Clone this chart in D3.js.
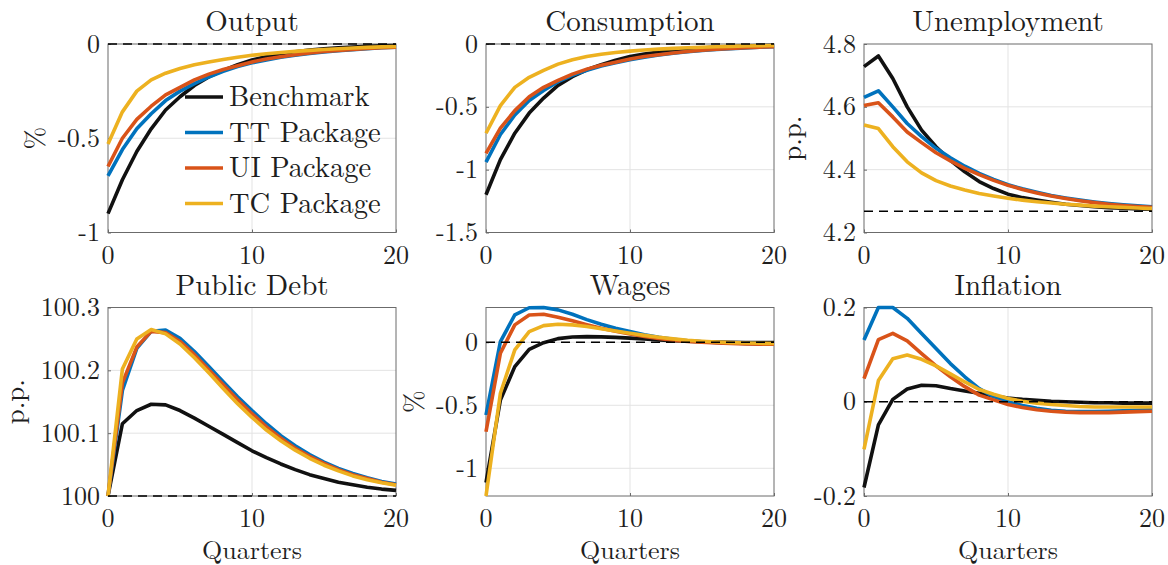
<!DOCTYPE html>
<html>
<head>
<meta charset="utf-8">
<script src="https://cdn.jsdelivr.net/npm/d3@7"></script>
<style>
  html, body { margin: 0; padding: 0; background: #fff; }
</style>
</head>
<body>
<svg id="chart" width="1168" height="565"></svg>
<script>
// Quarters after the shock
const quarters = [0,1,2,3,4,5,6,7,8,9,10,11,12,13,14,15,16,17,18,19,20];

const seriesNames = ["Benchmark", "TT Package", "UI Package", "TC Package"];
const seriesColors = ["#111111", "#0072BD", "#D95319", "#EDB120"];

// Output (%)
const outBench = [-0.90,-0.72,-0.57,-0.45,-0.35,-0.28,-0.22,-0.175,-0.14,-0.11,-0.085,-0.066,-0.052,-0.041,-0.032,-0.025,-0.02,-0.016,-0.012,-0.01,-0.008];
const outTT    = [-0.70,-0.56,-0.45,-0.37,-0.30,-0.25,-0.21,-0.175,-0.145,-0.12,-0.10,-0.085,-0.07,-0.06,-0.05,-0.042,-0.035,-0.03,-0.025,-0.02,-0.017];
const outUI    = [-0.65,-0.50,-0.40,-0.33,-0.27,-0.23,-0.19,-0.16,-0.135,-0.115,-0.095,-0.08,-0.068,-0.057,-0.048,-0.04,-0.034,-0.029,-0.024,-0.02,-0.017];
const outTC    = [-0.53,-0.36,-0.25,-0.19,-0.155,-0.13,-0.11,-0.095,-0.082,-0.07,-0.06,-0.052,-0.045,-0.039,-0.034,-0.029,-0.025,-0.021,-0.018,-0.015,-0.013];

// Consumption (%)
const conBench = [-1.20,-0.92,-0.71,-0.55,-0.43,-0.33,-0.26,-0.205,-0.165,-0.13,-0.10,-0.08,-0.064,-0.05,-0.04,-0.032,-0.025,-0.02,-0.016,-0.013,-0.01];
const conTT    = [-0.94,-0.72,-0.565,-0.45,-0.37,-0.30,-0.25,-0.21,-0.175,-0.15,-0.125,-0.105,-0.088,-0.074,-0.062,-0.052,-0.044,-0.037,-0.031,-0.026,-0.022];
const conUI    = [-0.87,-0.67,-0.53,-0.42,-0.345,-0.29,-0.24,-0.20,-0.17,-0.145,-0.12,-0.10,-0.085,-0.072,-0.06,-0.05,-0.042,-0.036,-0.03,-0.025,-0.021];
const conTC    = [-0.71,-0.49,-0.345,-0.265,-0.21,-0.16,-0.125,-0.10,-0.082,-0.068,-0.057,-0.048,-0.041,-0.035,-0.03,-0.026,-0.022,-0.019,-0.016,-0.014,-0.012];

// Unemployment (p.p.)
const unBench = [4.728,4.762,4.69,4.60,4.526,4.473,4.43,4.393,4.362,4.34,4.322,4.311,4.303,4.296,4.29,4.286,4.282,4.279,4.277,4.275,4.274];
const unTT    = [4.63,4.651,4.60,4.547,4.505,4.468,4.438,4.411,4.388,4.369,4.352,4.339,4.328,4.318,4.31,4.303,4.297,4.292,4.288,4.285,4.282];
const unUI    = [4.604,4.613,4.568,4.52,4.486,4.454,4.428,4.404,4.384,4.366,4.35,4.337,4.326,4.316,4.308,4.301,4.295,4.29,4.286,4.283,4.28];
const unTC    = [4.542,4.531,4.473,4.425,4.39,4.365,4.348,4.335,4.324,4.316,4.309,4.303,4.298,4.294,4.29,4.287,4.284,4.282,4.28,4.278,4.276];

// Public debt (p.p.)
const debtBench = [100,100.115,100.136,100.146,100.145,100.136,100.124,100.111,100.098,100.085,100.072,100.061,100.051,100.042,100.034,100.028,100.022,100.018,100.014,100.011,100.009];
const debtTT    = [100,100.168,100.235,100.262,100.264,100.251,100.23,100.206,100.182,100.158,100.136,100.115,100.096,100.08,100.066,100.054,100.044,100.036,100.029,100.023,100.019];
const debtUI    = [100,100.18,100.237,100.262,100.26,100.246,100.225,100.201,100.177,100.153,100.131,100.11,100.092,100.076,100.063,100.052,100.042,100.034,100.028,100.022,100.018];
const debtTC    = [100,100.202,100.25,100.265,100.258,100.242,100.22,100.196,100.171,100.147,100.125,100.105,100.088,100.073,100.06,100.049,100.04,100.032,100.026,100.021,100.017];

// Wages (%)
const wageBench = [-1.114,-0.458,-0.193,-0.056,-0.003,0.029,0.042,0.045,0.043,0.039,0.033,0.026,0.019,0.013,0.008,0.004,0.001,-0.001,-0.002,-0.003,-0.003];
const wageTT    = [-0.577,0.005,0.217,0.274,0.276,0.257,0.222,0.18,0.143,0.111,0.085,0.06,0.04,0.024,0.012,0.004,-0.002,-0.006,-0.009,-0.011,-0.012];
const wageUI    = [-0.71,-0.087,0.138,0.217,0.222,0.198,0.17,0.14,0.112,0.087,0.065,0.046,0.03,0.017,0.007,0,-0.006,-0.01,-0.013,-0.015,-0.016];
const wageTC    = [-1.22,-0.405,-0.06,0.085,0.132,0.143,0.138,0.125,0.108,0.09,0.072,0.055,0.04,0.027,0.016,0.008,0.002,-0.003,-0.006,-0.008,-0.01];

// Inflation (p.p.)
const infBench = [-0.182,-0.049,0.005,0.027,0.035,0.034,0.028,0.023,0.018,0.012,0.008,0.005,0.003,0.001,0,-0.001,-0.002,-0.002,-0.003,-0.003,-0.003];
const infTT    = [0.131,0.2,0.2,0.177,0.145,0.113,0.081,0.053,0.028,0.011,0,-0.008,-0.014,-0.018,-0.02,-0.021,-0.021,-0.02,-0.019,-0.018,-0.017];
const infUI    = [0.049,0.132,0.145,0.129,0.102,0.076,0.053,0.032,0.014,0.004,-0.006,-0.012,-0.017,-0.02,-0.022,-0.023,-0.023,-0.023,-0.022,-0.021,-0.02];
const infTC    = [-0.101,0.045,0.091,0.099,0.09,0.076,0.059,0.042,0.026,0.016,0.007,0.001,-0.003,-0.006,-0.008,-0.01,-0.011,-0.011,-0.011,-0.011,-0.011];

// Axis ticks
const xTicks = [0, 10, 20];
const outTicks = [-1, -0.5, 0];
const conTicks = [-1.5, -1, -0.5, 0];
const unTicks = [4.2, 4.4, 4.6, 4.8];
const debtTicks = [100, 100.1, 100.2, 100.3];
const wageTicks = [-1, -0.5, 0];
const infTicks = [-0.2, 0, 0.2];

// Panel titles, units and steady-state reference levels
const titles = ["Output", "Consumption", "Unemployment", "Public Debt", "Wages", "Inflation"];
const units = ["%", "", "p.p.", "p.p.", "%", ""];
const refLevels = [0, 0, 4.268, 100, 0, 0];

const panels = [
  { series: [outBench, outTT, outUI, outTC],     domain: [-1, 0],        ticks: outTicks },
  { series: [conBench, conTT, conUI, conTC],     domain: [-1.5, 0],      ticks: conTicks },
  { series: [unBench, unTT, unUI, unTC],         domain: [4.2, 4.8],     ticks: unTicks },
  { series: [debtBench, debtTT, debtUI, debtTC], domain: [100, 100.3],   ticks: debtTicks },
  { series: [wageBench, wageTT, wageUI, wageTC], domain: null,           ticks: wageTicks },
  { series: [infBench, infTT, infUI, infTC],     domain: [-0.2, 0.2],    ticks: infTicks }
];

// Layout of the 2x3 grid of axes
const colLeft = [108, 486, 864];
const rowTop = [44, 307.5];
const plotW = 288, plotH = 188.5;
const ylabelX = [44, null, 801, 24, 423, null];

// Pick the first serif face the system actually has
const serifCandidates = ["Latin Modern Roman", "CMU Serif", "Liberation Serif", "Tinos", "Times New Roman",
  "Nimbus Roman", "TeX Gyre Termes", "FreeSerif", "DejaVu Serif", "Noto Serif"];
function hasFont(name) {
  const ctx = document.createElement("canvas").getContext("2d");
  const probe = "Benchmark Quarters 0123456789 mwil";
  return ["monospace", "sans-serif"].every(base => {
    ctx.font = `40px ${base}`;
    const w0 = ctx.measureText(probe).width;
    ctx.font = `40px "${name}", ${base}`;
    return Math.abs(ctx.measureText(probe).width - w0) > 0.5;
  });
}
const serifFace = serifCandidates.find(hasFont);
const FONT = serifFace ? `"${serifFace}", serif` : "serif";
// Times-like faces run narrower than Computer Modern; open them up slightly
const timesLike = ["Liberation Serif", "Tinos", "Times New Roman", "Nimbus Roman", "TeX Gyre Termes", "FreeSerif"];
const spread = timesLike.includes(serifFace) ? 1 : 0;

const svg = d3.select("#chart");
const fmt = v => String(+v.toFixed(2));

function label(sel, size, spacing) {
  return sel.attr("font-size", size)
    .attr("letter-spacing", spacing * spread)
    .attr("fill", "#1e1e1e")
    .style("font-family", FONT);
}

panels.forEach((p, i) => {
  const col = i % 3, row = Math.floor(i / 3);
  const left = colLeft[col], top = rowTop[row];
  const g = svg.append("g").attr("transform", `translate(${left},${top})`);

  const x = d3.scaleLinear().domain([0, 20]).range([0, plotW]);
  let dom = p.domain;
  if (!dom) {
    // tight limits around the data
    const all = p.series.flat();
    dom = [d3.min(all), d3.max(all)];
  }
  const y = d3.scaleLinear().domain(dom).range([plotH, 0]);

  // grid
  g.append("g").selectAll("line").data(xTicks.filter(t => t > 0 && t < 20)).join("line")
    .attr("x1", d => x(d)).attr("x2", d => x(d)).attr("y1", 0).attr("y2", plotH)
    .attr("stroke", "#e3e3e3").attr("stroke-width", 1);
  g.append("g").selectAll("line").data(p.ticks.filter(t => y(t) > 1 && y(t) < plotH - 1)).join("line")
    .attr("x1", 0).attr("x2", plotW).attr("y1", d => y(d)).attr("y2", d => y(d))
    .attr("stroke", "#e3e3e3").attr("stroke-width", 1);

  // box
  g.append("rect").attr("x", 0).attr("y", 0).attr("width", plotW).attr("height", plotH)
    .attr("fill", "none").attr("stroke", "#6b6b6b").attr("stroke-width", 1);

  // axes with inward ticks
  const xAxis = d3.axisBottom(x).tickValues(xTicks).tickSize(-3).tickFormat("");
  const yAxis = d3.axisLeft(y).tickValues(p.ticks).tickSize(-3).tickFormat("");
  g.append("g").attr("transform", `translate(0,${plotH})`).call(xAxis)
    .call(a => { a.select(".domain").remove(); a.selectAll("line").attr("stroke", "#6b6b6b"); });
  g.append("g").call(yAxis)
    .call(a => { a.select(".domain").remove(); a.selectAll("line").attr("stroke", "#6b6b6b"); });

  // tick labels
  g.append("g").selectAll("text").data(xTicks).join("text")
    .attr("x", d => x(d)).attr("y", plotH + 31)
    .attr("text-anchor", "middle")
    .call(s => label(s, 26, 0.5))
    .text(d => fmt(d));
  g.append("g").selectAll("text").data(p.ticks).join("text")
    .attr("x", -8).attr("y", d => y(d) + 8.5)
    .attr("text-anchor", "end")
    .call(s => label(s, 26, 0.5))
    .text(d => fmt(d));

  // series
  const line = d3.line().x((d, k) => x(quarters[k])).y(d => y(d));
  p.series.forEach((s, k) => {
    g.append("path").datum(s).attr("d", line)
      .attr("fill", "none").attr("stroke", seriesColors[k])
      .attr("stroke-width", 3.6).attr("stroke-linejoin", "round");
  });

  // steady-state reference
  g.append("line")
    .attr("x1", x(0)).attr("x2", x(20))
    .attr("y1", y(refLevels[i])).attr("y2", y(refLevels[i]))
    .attr("stroke", "#000").attr("stroke-width", 1.5).attr("stroke-dasharray", "9,6");

  // title
  g.append("text").attr("x", plotW / 2).attr("y", -13)
    .attr("text-anchor", "middle")
    .call(s => label(s, 29, 1))
    .text(titles[i]);

  // y label
  if (units[i]) {
    g.append("text")
      .attr("transform", `translate(${ylabelX[i] - left},${plotH / 2}) rotate(-90)`)
      .attr("text-anchor", "middle")
      .call(s => label(s, 27, 1.5))
      .text(units[i]);
  }

  // x label on bottom row
  if (row === 1) {
    g.append("text").attr("x", plotW / 2).attr("y", plotH + 63)
      .attr("text-anchor", "middle")
      .call(s => label(s, 26, 1.5))
      .text("Quarters");
  }

  // legend in the first panel
  if (i === 0) {
    const lg = g.append("g");
    seriesNames.forEach((name, k) => {
      const cy = 53 + k * 35.5;
      lg.append("line").attr("x1", 77).attr("x2", 115).attr("y1", cy).attr("y2", cy)
        .attr("stroke", seriesColors[k]).attr("stroke-width", 3.6);
      lg.append("text").attr("x", 121).attr("y", cy + 9)
        .call(s => label(s, 28.5, 1.5))
        .text(name);
    });
  }
});
</script>
</body>
</html>
